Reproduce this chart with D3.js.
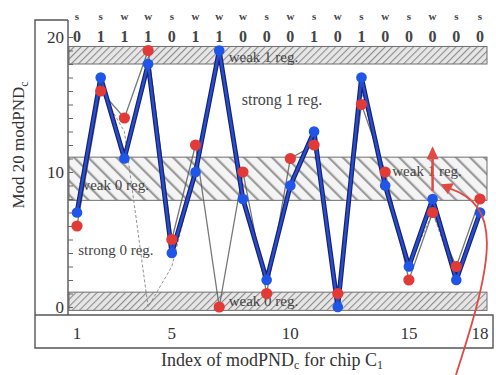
<!DOCTYPE html>
<html>
<head>
<meta charset="utf-8">
<script src="https://cdn.jsdelivr.net/npm/d3@7"></script>
<style>
  body { margin: 0; background: #fff; }
  svg text { font-family: "Liberation Serif", "DejaVu Serif", serif; }
</style>
</head>
<body>
<svg id="chart"></svg>
<script>
const w = 496, h = 375;

// chip C1, 18 modPND values
const indices = d3.range(1, 19);
const strength = ["s","s","w","w","s","w","w","w","s","w","s","w","s","w","s","w","s","s"];
const bits = ["0","1","1","1","0","1","1","0","0","0","1","0","1","0","0","0","0","0"];
const redVals = [6,16,14,19,5,12,0,10,1,11,12,1,15,10,2,7,3,8];
const blueVals = [7,17,11,18,4,10,19,8,2,9,13,0,17,9,3,8,2,7];
const grayVals = [7,16,13,0,3,10,19,8,2,9,13,0,16,9,3,7,2,7];
const xTicks = [1, 5, 10, 15, 18];
const yTicks = [0, 10, 20];
const bands = [[18, 19.3], [7.9, 11.1], [-0.25, 1.1]];

const svg = d3.select("#chart").attr("width", w).attr("height", h);

const x = d3.scaleLinear().domain([1, 18]).range([77, 480]);
const y = d3.scaleLinear().domain([0, 20]).range([307, 37]);

const plotL = 68, plotR = 487, stripTop = 315, stripBot = 348, boxL = 35, boxR = 493;

// hatch patterns
const defs = svg.append("defs");
function hatch(id, size, sw, angle, bg, fg) {
  const p = defs.append("pattern").attr("id", id)
    .attr("patternUnits", "userSpaceOnUse")
    .attr("width", size).attr("height", size)
    .attr("patternTransform", `rotate(${angle})`);
  p.append("rect").attr("width", size).attr("height", size).attr("fill", bg);
  p.append("line").attr("x1", 0).attr("y1", 0).attr("x2", 0).attr("y2", size)
    .attr("stroke", fg).attr("stroke-width", sw);
}
hatch("fine", 5, 2.2, 45, "#e6e6e6", "#8c8c8c");
hatch("coarse", 10, 4.5, -45, "#f4f4f4", "#9a9a9a");

// bands
svg.selectAll(".band").data(bands).enter().append("rect")
  .attr("class", "band")
  .attr("x", plotL + 1).attr("width", plotR - plotL - 1)
  .attr("y", d => y(d[1])).attr("height", d => y(d[0]) - y(d[1]))
  .attr("fill", (d, i) => i === 1 ? "url(#coarse)" : "url(#fine)")
  .attr("stroke", "#6f6f6f").attr("stroke-width", 1);

// frame
svg.append("path")
  .attr("d", `M${plotL},20 H${boxL} V${stripBot} H${boxR} V${stripTop} H${boxL} M${plotL},20 V${stripTop}`)
  .attr("fill", "none").attr("stroke", "#555").attr("stroke-width", 1.4);

// y axis: minor ticks inward + labels
const yAxis = d3.axisRight(y).ticks(20).tickSize(5).tickFormat("");
const ya = svg.append("g").attr("transform", `translate(${plotL},0)`).call(yAxis);
ya.select(".domain").remove();
ya.selectAll("line").attr("stroke", "#666");
svg.selectAll(".ylab").data(yTicks).enter().append("text")
  .attr("x", plotL - 4).attr("y", d => y(d) + 6)
  .attr("text-anchor", "end").attr("font-size", 17).attr("fill", "#333")
  .text(d => d);

// x tick labels in the strip
svg.selectAll(".xlab").data(xTicks).enter().append("text")
  .attr("x", d => x(d)).attr("y", 339)
  .attr("text-anchor", "middle").attr("font-size", 17).attr("fill", "#333")
  .text(d => d);

// top letter rows
svg.selectAll(".sw").data(indices).enter().append("text")
  .attr("x", d => x(d)).attr("y", 20)
  .attr("text-anchor", "middle").attr("font-size", 11).attr("font-weight", "bold").attr("fill", "#444")
  .text((d, i) => strength[i]);
svg.selectAll(".bit").data(indices).enter().append("text")
  .attr("x", d => x(d)).attr("y", 42)
  .attr("text-anchor", "middle").attr("font-size", 16).attr("font-weight", "bold").attr("fill", "#444")
  .text((d, i) => bits[i]);

// region labels
const lab = (t, xv, yv, fs) => svg.append("text").attr("x", x(xv)).attr("y", y(yv))
  .attr("font-size", fs).attr("fill", "#444").text(t);
lab("weak 1 reg.", 7.4, 18.15, 15);
lab("strong 1 reg.", 7.95, 15.0, 16);
lab("weak 1 reg.", 14.3, 9.7, 15);
lab("weak 0 reg.", 1.1, 8.7, 15);
lab("strong 0 reg.", 1.05, 3.85, 15);
lab("weak 0 reg.", 7.4, 0.1, 15);

// gray lines
const line = vals => d3.line().x((d, i) => x(indices[i])).y(d => y(d))(vals);
svg.append("path").attr("d", line(grayVals)).attr("fill", "none")
  .attr("stroke", "#777").attr("stroke-width", 1).attr("stroke-dasharray", "3,2").attr("opacity", 0.8);
svg.append("path").attr("d", line(redVals)).attr("fill", "none")
  .attr("stroke", "#555").attr("stroke-width", 1.3).attr("opacity", 0.8);

// blue line
svg.append("path").attr("d", line(blueVals)).attr("fill", "none")
  .attr("stroke", "#14246e").attr("stroke-width", 4.8).attr("stroke-linejoin", "round");
svg.append("path").attr("d", line(blueVals)).attr("fill", "none")
  .attr("stroke", "#2a4cd0").attr("stroke-width", 2.4).attr("stroke-linejoin", "round");

// dots
svg.selectAll(".blue").data(blueVals).enter().append("circle")
  .attr("cx", (d, i) => x(indices[i])).attr("cy", d => y(d)).attr("r", 5.3)
  .attr("fill", "#1f56e8");
svg.selectAll(".red").data(redVals).enter().append("circle")
  .attr("cx", (d, i) => x(indices[i])).attr("cy", d => y(d)).attr("r", 5.6)
  .attr("fill", "#e23a36");

// red annotation arrows
const red = "#e04a44";
svg.append("line").attr("x1", x(16)).attr("x2", x(16)).attr("y1", y(8.6)).attr("y2", y(11.3))
  .attr("stroke", red).attr("stroke-width", 2.5);
svg.append("path")
  .attr("d", `M${x(16)},${y(11.9)} l-6,13 h12 z`).attr("fill", red);
const ax = x(16.35), ay = y(9.1);
svg.append("path")
  .attr("d", `M${ax + 15},${h} C${ax + 55},${y(4)} ${ax + 60},${y(7.5)} ${ax + 8},${ay + 4}`)
  .attr("fill", "none").attr("stroke", red).attr("stroke-width", 1.8);
svg.append("path")
  .attr("d", `M${ax},${ay} l13,-1 l-6,11 z`).attr("fill", red);

// axis titles
svg.append("text").attr("x", 272).attr("y", 366).attr("text-anchor", "middle")
  .attr("font-size", 18).attr("fill", "#333")
  .html('Index of modPND<tspan font-size="12" dy="3">c</tspan><tspan dy="-3"> for chip C</tspan><tspan font-size="12" dy="3">1</tspan>');
svg.append("text").attr("transform", "translate(24,145) rotate(-90)").attr("text-anchor", "middle")
  .attr("font-size", 17).attr("fill", "#333")
  .html('Mod 20 modPND<tspan font-size="12" dy="4">c</tspan>');
</script>
</body>
</html>
